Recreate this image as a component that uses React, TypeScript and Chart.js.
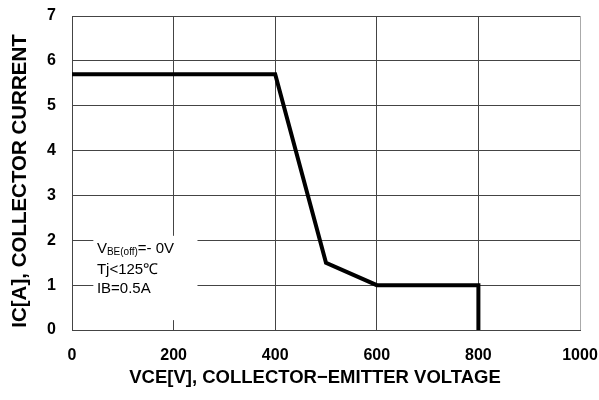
import React, { useEffect, useRef } from "react";
import { Chart, registerables } from "chart.js";

Chart.register(...registerables);

const vceValues = [0, 400, 500, 600, 800, 800];
const icValues = [5.7, 5.7, 1.5, 1, 1, 0];
const xTicks = [0, 200, 400, 600, 800, 1000];
const yTicks = [0, 1, 2, 3, 4, 5, 6, 7];
const xTitle = "VCE[V], COLLECTOR\u2212EMITTER VOLTAGE";
const yTitle = "IC[A], COLLECTOR CURRENT";
const noteLines = ["Tj<125\u2103", "IB=0.5A"];

const FONT = "'Liberation Sans', Arial, sans-serif";

const notePlugin = {
  id: "notePlugin",
  beforeDatasetsDraw(chart: any) {
    const { ctx, scales } = chart;
    const x0 = scales.x.getPixelForValue(42);
    const x1 = scales.x.getPixelForValue(247);
    const y0 = scales.y.getPixelForValue(2.1);
    const y1 = scales.y.getPixelForValue(0.22);
    ctx.save();
    ctx.fillStyle = "#ffffff";
    ctx.fillRect(x0, y0, x1 - x0, y1 - y0);
    ctx.restore();
  },
  afterDatasetsDraw(chart: any) {
    const { ctx, scales } = chart;
    const x = scales.x.getPixelForValue(49);
    const yBase = scales.y.getPixelForValue(1.72);
    ctx.save();
    ctx.fillStyle = "#000";
    ctx.textBaseline = "alphabetic";
    ctx.textAlign = "left";
    ctx.font = `15px ${FONT}`;
    ctx.fillText("V", x, yBase);
    let cx = x + ctx.measureText("V").width;
    ctx.font = `10px ${FONT}`;
    ctx.fillText("BE(off)", cx, yBase + 2);
    cx += ctx.measureText("BE(off)").width;
    ctx.font = `15px ${FONT}`;
    ctx.fillText("=- 0V", cx, yBase);
    ctx.fillText(noteLines[0], x, yBase + 21);
    ctx.fillText(noteLines[1], x, yBase + 40);
    ctx.restore();
  },
  afterDraw(chart: any) {
    const { ctx, chartArea } = chart;
    ctx.save();
    ctx.fillStyle = "#000";
    ctx.textAlign = "center";
    ctx.textBaseline = "middle";
    ctx.font = `bold 18.5px ${FONT}`;
    ctx.fillText(xTitle, chartArea.left + 243, chartArea.bottom + 48);
    ctx.translate(20, chartArea.top + 165);
    ctx.rotate(-Math.PI / 2);
    ctx.font = `bold 20.5px ${FONT}`;
    ctx.fillText(yTitle, 0, 0);
    ctx.restore();
  },
};

export default function App() {
  const ref = useRef<HTMLCanvasElement>(null);
  useEffect(() => {
    const c = new Chart(ref.current!, {
      type: "line",
      data: {
        datasets: [
          {
            data: vceValues.map((v, i) => ({ x: v, y: icValues[i] })),
            borderColor: "#000",
            borderWidth: 4,
            pointRadius: 0,
            fill: false,
            tension: 0,
          },
        ],
      },
      options: {
        animation: false,
        responsive: false,
        maintainAspectRatio: false,
        layout: { padding: { top: 16, right: 19, left: 0, bottom: 0 } },
        plugins: { legend: { display: false }, tooltip: { enabled: false } },
        scales: {
          x: {
            type: "linear",
            min: 0,
            max: 1000,
            afterBuildTicks: (s: any) => {
              s.ticks = xTicks.map((v) => ({ value: v }));
            },
            afterFit: (s: any) => {
              s.height = 70;
              s.paddingLeft = 0;
              s.paddingRight = 0;
            },
            grid: {
              color: (g: any) => (g.tick && g.tick.value === 1000 ? "#aaa" : "#444"),
              lineWidth: 1,
              drawTicks: false,
            },
            border: { color: "#444", width: 1 },
            ticks: {
              color: "#000",
              padding: 16,
              maxRotation: 0,
              callback: (v: any) => String(v),
              font: { family: FONT, size: 16, weight: "bold" },
            },
          },
          y: {
            type: "linear",
            min: 0,
            max: 7,
            afterBuildTicks: (s: any) => {
              s.ticks = yTicks.map((v) => ({ value: v }));
            },
            afterFit: (s: any) => {
              s.width = 72;
              s.paddingTop = 0;
              s.paddingBottom = 0;
            },
            grid: { color: "#444", lineWidth: 1, drawTicks: false },
            border: { color: "#444", width: 1 },
            ticks: {
              color: "#000",
              padding: 16,
              callback: (v: any) => String(v),
              font: { family: FONT, size: 16, weight: "bold" },
            },
          },
        },
      },
      plugins: [notePlugin],
    });
    return () => c.destroy();
  }, []);
  return (
    <div style={{ position: "fixed", left: 0, top: 0, width: 599, height: 400, background: "#fff" }}>
      <canvas ref={ref} width={599} height={400} style={{ width: 599, height: 400 }} />
    </div>
  );
}
